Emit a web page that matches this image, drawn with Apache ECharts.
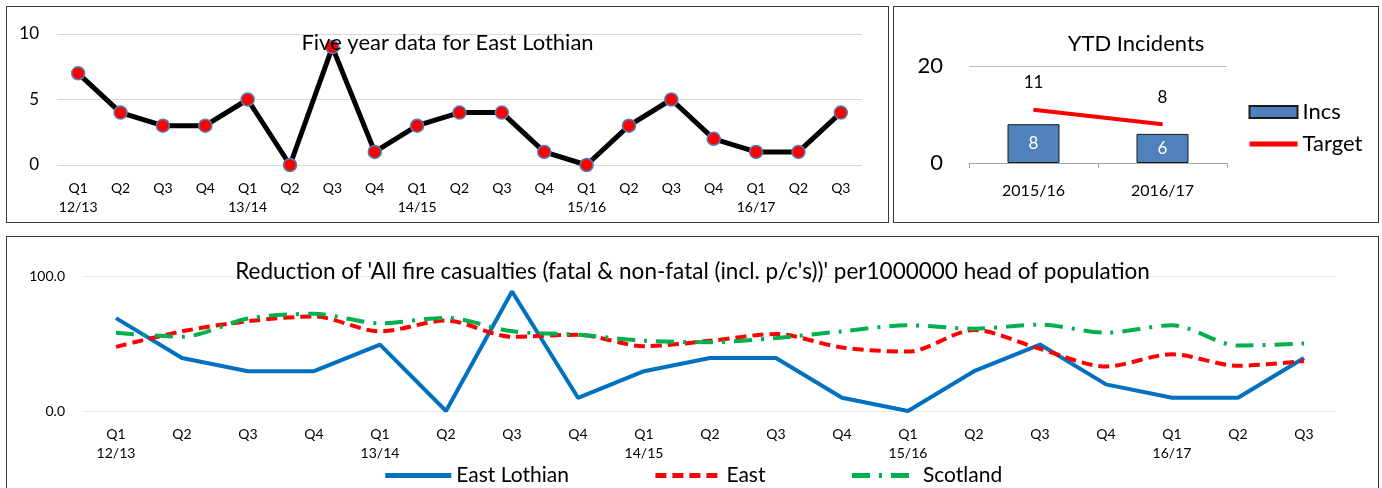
<!DOCTYPE html>
<html>
<head>
<meta charset="utf-8">
<script src="https://cdn.jsdelivr.net/npm/echarts@6/dist/echarts.min.js"></script>
<style>
  html, body { margin: 0; padding: 0; background: #fff; overflow: hidden; width: 1382px; height: 488px; }
  .box { position: absolute; border: 1.5px solid #3a3a3a; box-sizing: border-box; background: #fff; }
  #trend { left: 6px; top: 6px; width: 883px; height: 217px; }
  #ytd { left: 893px; top: 6px; width: 486px; height: 217px; }
  #rate { left: 6px; top: 236px; width: 1373px; height: 262px; }
</style>
</head>
<body>
<div id="trend" class="box"></div>
<div id="ytd" class="box"></div>
<div id="rate" class="box"></div>
<script>
  var quarters = ['Q1\n12/13', 'Q2', 'Q3', 'Q4', 'Q1\n13/14', 'Q2', 'Q3', 'Q4', 'Q1\n14/15', 'Q2', 'Q3', 'Q4',
                  'Q1\n15/16', 'Q2', 'Q3', 'Q4', 'Q1\n16/17', 'Q2', 'Q3']
  var eastLothianIncs = [7, 4, 3, 3, 5, 0, 9, 1, 3, 4, 4, 1, 0, 3, 5, 2, 1, 1, 4]

  var ytdYears = ['2015/16', '2016/17']
  var ytdIncs = [8, 6]
  var ytdTarget = [11, 8]

  // per 1,000,000 head of population
  var rateEastLothian = [68.8, 39.3, 29.5, 29.5, 49.2, 0, 88.5, 9.8, 29.5, 39.3, 39.3, 9.8, 0, 29.5, 49.2, 19.7, 9.8, 9.8, 39.3]
  var rateEast = [47.5, 59, 66.5, 70, 59, 67, 55, 56.5, 48, 52, 57, 47, 44, 60, 46, 33, 42, 33.5, 37]
  var rateScotland = [58, 55, 68.5, 72, 65, 69, 59, 56.5, 52, 51, 54, 59, 63.5, 61, 64, 58, 63.5, 48.5, 50]

  var font = 'Lato, "Open Sans", sans-serif'
  var grey = '#d9d9d9'

  // quarterly incidents
  var chartTrend = echarts.init(document.getElementById('trend'))
  chartTrend.setOption({
    animation: false,
    textStyle: { fontFamily: font },
    title: {
      text: 'Five year data for East Lothian',
      left: 'center',
      top: 20,
      textStyle: { fontSize: 22, fontWeight: 'normal', color: '#000', fontFamily: font }
    },
    grid: { left: 50, right: 26, top: 27, bottom: 57 },
    xAxis: {
      type: 'category',
      data: quarters,
      axisLine: { show: false },
      axisTick: { show: false },
      axisLabel: { color: '#000', fontSize: 14, margin: 14, lineHeight: 19, interval: 0 }
    },
    yAxis: {
      type: 'value',
      min: 0, max: 10, interval: 5,
      axisLabel: { color: '#000', fontSize: 17, margin: 18 },
      splitLine: { lineStyle: { color: grey } }
    },
    series: [{
      type: 'line',
      data: eastLothianIncs,
      lineStyle: { color: '#000', width: 5 },
      symbol: 'circle',
      symbolSize: 13,
      itemStyle: { color: '#ff0000', borderColor: '#4f81bd', borderWidth: 1.5 }
    }]
  })

  // year to date
  var chartYtd = echarts.init(document.getElementById('ytd'))
  chartYtd.setOption({
    animation: false,
    textStyle: { fontFamily: font },
    title: {
      text: 'YTD Incidents',
      left: 'center',
      top: 21,
      textStyle: { fontSize: 22, fontWeight: 'normal', color: '#000', fontFamily: font }
    },
    legend: {
      orient: 'vertical',
      left: 348,
      top: 89,
      itemWidth: 48,
      itemHeight: 12,
      itemGap: 10,
      textStyle: { fontSize: 22, color: '#000', fontFamily: font },
      lineStyle: { width: 5 },
      data: [
        { name: 'Incs', icon: 'rect' },
        { name: 'Target', itemStyle: { opacity: 0 } }
      ]
    },
    grid: { left: 75, right: 151, top: 59, bottom: 59 },
    xAxis: {
      type: 'category',
      data: ytdYears,
      axisLine: { lineStyle: { color: '#a6a6a6' } },
      axisTick: { show: true, length: 5, lineStyle: { color: '#a6a6a6' } },
      axisLabel: { color: '#000', fontSize: 16, margin: 20 }
    },
    yAxis: {
      type: 'value',
      min: 0, max: 20, interval: 20,
      axisLabel: { color: '#000', fontSize: 22, margin: 26 },
      splitLine: { lineStyle: { color: '#bfbfbf' } }
    },
    series: [{
      name: 'Incs',
      type: 'bar',
      data: ytdIncs,
      barWidth: 52,
      itemStyle: { color: '#4f81bd', borderColor: '#1a1a1a', borderWidth: 1 },
      label: { show: true, position: 'inside', color: '#fff', fontSize: 17, fontFamily: font }
    }, {
      name: 'Target',
      type: 'line',
      data: ytdTarget,
      symbol: 'circle',
      symbolSize: 1,
      lineStyle: { color: '#ff0000', width: 4 },
      itemStyle: { color: '#ff0000' },
      label: { show: true, position: 'top', distance: 18, color: '#000', fontSize: 17, fontFamily: font }
    }]
  })

  // casualties per head of population
  var chartRate = echarts.init(document.getElementById('rate'))
  chartRate.setOption({
    animation: false,
    textStyle: { fontFamily: font },
    title: {
      text: "Reduction of 'All fire casualties (fatal & non-fatal (incl. p/c's))' per1000000 head of population",
      left: 'center',
      top: 18,
      textStyle: { fontSize: 22.5, fontWeight: 'normal', color: '#000', fontFamily: font }
    },
    legend: {
      bottom: 6,
      left: 'center',
      itemWidth: 66,
      itemHeight: 12,
      itemGap: 84,
      textStyle: { fontSize: 21, color: '#000', fontFamily: font },
      itemStyle: { opacity: 0 },
      lineStyle: { width: 5 },
      data: ['East Lothian', 'East', 'Scotland']
    },
    grid: { left: 76, right: 41, top: 39, bottom: 86 },
    xAxis: {
      type: 'category',
      data: quarters,
      axisLine: { show: false },
      axisTick: { show: false },
      axisLabel: { color: '#000', fontSize: 14, margin: 14, lineHeight: 19, interval: 0 }
    },
    yAxis: {
      type: 'value',
      min: 0, max: 100, interval: 100,
      axisLabel: { color: '#000', fontSize: 14, margin: 18, formatter: function (v) { return v.toFixed(1) } },
      splitLine: { lineStyle: { color: '#ececec' } }
    },
    series: [{
      name: 'East Lothian',
      type: 'line',
      data: rateEastLothian,
      symbol: 'none',
      lineStyle: { color: '#0070c0', width: 4 },
      itemStyle: { color: '#0070c0' }
    }, {
      name: 'East',
      type: 'line',
      data: rateEast,
      symbol: 'none',
      smooth: 0.3,
      lineStyle: { color: '#ff0000', width: 4, type: [11, 6] },
      itemStyle: { color: '#ff0000' }
    }, {
      name: 'Scotland',
      type: 'line',
      data: rateScotland,
      symbol: 'none',
      smooth: 0.3,
      lineStyle: { color: '#00b050', width: 4, type: [18, 9, 3, 9] },
      itemStyle: { color: '#00b050' }
    }]
  })
</script>
</body>
</html>
